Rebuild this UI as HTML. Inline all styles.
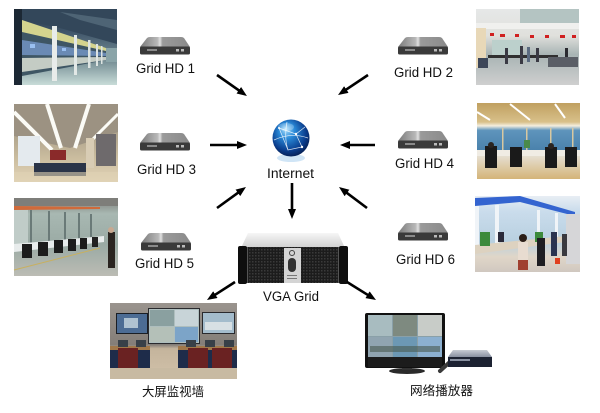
<!DOCTYPE html>
<html><head><meta charset="utf-8"><style>
html,body{margin:0;padding:0;background:#fff;}
svg{display:block;}
text{font-family:"Liberation Sans","Noto Sans CJK SC",sans-serif;fill:#111;}
</style></head><body>
<svg width="600" height="413" viewBox="0 0 600 413" xmlns="http://www.w3.org/2000/svg">
<defs>
<marker id="ah" markerWidth="10" markerHeight="8" viewBox="0 0 10 8" refX="2" refY="4" orient="auto" markerUnits="userSpaceOnUse">
<path d="M0,0 L10,4 L0,8 z" fill="#000"/>
</marker>
<linearGradient id="devtop" x1="0" y1="0" x2="1" y2="0">
<stop offset="0" stop-color="#7a7a7a"/><stop offset="0.35" stop-color="#b8b8b8"/><stop offset="0.4" stop-color="#e0e0e0"/><stop offset="0.45" stop-color="#9a9a9a"/><stop offset="1" stop-color="#8a8a8a"/>
</linearGradient>
<g id="dev">
<path d="M7,1 Q8,0 10,0 L41,0 Q43,0 44,1 L50,10 L0,10 Z" fill="url(#devtop)"/>
<rect x="0" y="9.5" width="50" height="8" rx="1.5" fill="#3a3a3a"/>
<rect x="7" y="12" width="10" height="2" fill="#8a8a8a"/>
<rect x="36" y="12" width="3" height="2.5" fill="#bbb"/>
<rect x="41" y="12" width="3" height="2.5" fill="#bbb"/>
</g>
<radialGradient id="globe" cx="0.45" cy="0.4" r="0.6" fx="0.35" fy="0.25">
<stop offset="0" stop-color="#b0e4ff"/><stop offset="0.35" stop-color="#2a8ad8"/><stop offset="0.8" stop-color="#0a3c8c"/><stop offset="1" stop-color="#06225a"/>
</radialGradient>
<linearGradient id="srvtop" x1="0" y1="0" x2="0" y2="1">
<stop offset="0" stop-color="#f6f6f6"/><stop offset="1" stop-color="#cfcfcf"/>
</linearGradient>
<pattern id="mesh" width="3" height="3" patternUnits="userSpaceOnUse">
<rect width="3" height="3" fill="#1c1c1c"/><rect x="0" y="0" width="1.5" height="1.5" fill="#3a3a3a"/>
</pattern>
<linearGradient id="p1" x1="0" y1="0" x2="0" y2="1">
<stop offset="0" stop-color="#243242"/><stop offset="0.3" stop-color="#40566a"/><stop offset="0.7" stop-color="#7a9298"/><stop offset="1" stop-color="#c8dcd8"/>
</linearGradient>
<linearGradient id="p3" x1="0" y1="0" x2="0" y2="1">
<stop offset="0" stop-color="#a49a8a"/><stop offset="0.45" stop-color="#b4a890"/><stop offset="0.7" stop-color="#cbbd9f"/><stop offset="1" stop-color="#e2d4b8"/>
</linearGradient>
<linearGradient id="p5" x1="0" y1="0" x2="0" y2="1">
<stop offset="0" stop-color="#7c7c78"/><stop offset="0.2" stop-color="#a8b8b2"/><stop offset="0.6" stop-color="#9aaaa4"/><stop offset="1" stop-color="#bcbcb4"/>
</linearGradient>
<linearGradient id="p2" x1="0" y1="0" x2="0" y2="1">
<stop offset="0" stop-color="#e6e8e8"/><stop offset="0.35" stop-color="#e0e0dc"/><stop offset="0.6" stop-color="#a8b4b4"/><stop offset="1" stop-color="#cfcfcf"/>
</linearGradient>
<linearGradient id="p4" x1="0" y1="0" x2="0" y2="1">
<stop offset="0" stop-color="#c0a060"/><stop offset="0.25" stop-color="#d8c08a"/><stop offset="0.3" stop-color="#f4eede"/><stop offset="0.36" stop-color="#5e94bc"/><stop offset="0.62" stop-color="#4a82ac"/><stop offset="0.66" stop-color="#e8e4dc"/><stop offset="1" stop-color="#d4b478"/>
</linearGradient>
<linearGradient id="p6" x1="0" y1="0" x2="0" y2="1">
<stop offset="0" stop-color="#e8eef4"/><stop offset="0.2" stop-color="#cadcec"/><stop offset="0.6" stop-color="#b8d0e0"/><stop offset="0.8" stop-color="#e0d6c8"/><stop offset="1" stop-color="#d0c8c0"/>
</linearGradient>
<linearGradient id="wallg" x1="0" y1="0" x2="0" y2="1">
<stop offset="0" stop-color="#9a948e"/><stop offset="0.55" stop-color="#847e78"/><stop offset="0.6" stop-color="#c4b49c"/><stop offset="1" stop-color="#d2c2aa"/>
</linearGradient>
<linearGradient id="boxtop" x1="0" y1="0" x2="0" y2="1">
<stop offset="0" stop-color="#c8ccd4"/><stop offset="1" stop-color="#8890a0"/>
</linearGradient>
</defs>

<!-- Photo 1 -->
<g>
<rect x="14" y="9" width="103" height="76" fill="url(#p1)"/>
<polygon points="14,9 117,9 117,44 60,28 14,18" fill="#33475a"/>
<polygon points="60,12 117,20 117,30 80,20" fill="#5a7080" opacity="0.7"/>
<rect x="14" y="9" width="8" height="76" fill="#1c2834"/>
<polygon points="22,20 106,48 106,60 22,76" fill="#3e5664"/>
<polygon points="22,20 106,48 106,51 22,32" fill="#d4d48e"/>
<polygon points="22,40 106,53 106,56 22,55" fill="#6a8ab4"/>
<polygon points="22,58 106,57 106,60 22,72" fill="#c4ccc4"/>
<rect x="30" y="44" width="5" height="4" fill="#9ac0f0"/>
<rect x="62" y="48" width="4" height="3" fill="#9ac0f0"/>
<rect x="52" y="26" width="5" height="55" fill="#e8ecea"/>
<rect x="74" y="35" width="3" height="40" fill="#e2e8e6"/>
<rect x="88" y="40" width="2.5" height="28" fill="#dde4e2"/>
<rect x="96" y="44" width="2" height="22" fill="#dde4e2"/>
<rect x="101" y="46" width="1.5" height="18" fill="#dde4e2"/>
<rect x="106" y="48" width="11" height="14" fill="#8aa4a8"/>
</g>

<!-- Photo 3 -->
<g>
<rect x="14" y="104" width="104" height="78" fill="url(#p3)"/>
<polygon points="14,104 118,104 118,132 70,148 14,136" fill="#9c9282"/>
<line x1="14" y1="112" x2="52" y2="150" stroke="#fbfbf6" stroke-width="4"/>
<line x1="47" y1="104" x2="61" y2="148" stroke="#fbfbf6" stroke-width="4"/>
<line x1="89" y1="104" x2="75" y2="148" stroke="#fbfbf6" stroke-width="4"/>
<line x1="118" y1="114" x2="92" y2="140" stroke="#fbfbf6" stroke-width="3"/>
<rect x="18" y="136" width="22" height="30" fill="#e4eaee"/>
<rect x="96" y="134" width="20" height="32" fill="#6e6a6c"/>
<rect x="50" y="150" width="16" height="10" fill="#8a2a2a"/>
<rect x="86" y="138" width="8" height="30" fill="#d8ccb4"/>
<rect x="34" y="163" width="52" height="13" fill="#2a3448"/>
<rect x="14" y="172" width="104" height="10" fill="#e0d2b4" opacity="0.6"/>
</g>

<!-- Photo 5 -->
<g>
<rect x="14" y="198" width="104" height="78" fill="url(#p5)"/>
<rect x="14" y="198" width="104" height="8" fill="#7e7e7a"/>
<polygon points="14,206 100,207 100,209 14,210" fill="#d06a3a"/>
<rect x="14" y="210" width="14" height="36" fill="#c0ccc8"/>
<rect x="30" y="210" width="2" height="36" fill="#6a7a78"/>
<rect x="48" y="211" width="2" height="34" fill="#6a7a78"/>
<rect x="64" y="212" width="2" height="32" fill="#6a7a78"/>
<rect x="78" y="213" width="2" height="30" fill="#6a7a78"/>
<rect x="90" y="214" width="2" height="28" fill="#6a7a78"/>
<polygon points="14,244 104,236 104,242 14,252" fill="#e8ecec"/>
<rect x="22" y="244" width="10" height="14" fill="#1c1c1c"/>
<rect x="38" y="242" width="10" height="14" fill="#1c1c1c"/>
<rect x="54" y="240" width="9" height="13" fill="#1c1c1c"/>
<rect x="68" y="239" width="8" height="12" fill="#1c1c1c"/>
<rect x="80" y="238" width="7" height="11" fill="#1c1c1c"/>
<rect x="92" y="237" width="6" height="10" fill="#222"/>
<rect x="108" y="232" width="7" height="36" fill="#2a2420"/>
<circle cx="111" cy="230" r="3" fill="#c8a890"/>
<line x1="14" y1="270" x2="100" y2="248" stroke="#c8b060" stroke-width="1"/>
</g>

<!-- Photo 2 -->
<g>
<rect x="476" y="9" width="103" height="76" fill="url(#p2)"/>
<rect x="520" y="9" width="59" height="14" fill="#b4c4c2"/>
<rect x="476" y="23" width="103" height="6" fill="#f0f0ee"/>
<rect x="490" y="33" width="4" height="3" fill="#d02020"/>
<rect x="500" y="34" width="5" height="3" fill="#d02020"/>
<rect x="515" y="34" width="4" height="3" fill="#d02020"/>
<rect x="530" y="35" width="4" height="3" fill="#d02020"/>
<rect x="545" y="35" width="4" height="3" fill="#d02020"/>
<rect x="560" y="35" width="5" height="3" fill="#d02020"/>
<rect x="572" y="35" width="4" height="3" fill="#d02020"/>
<rect x="476" y="28" width="10" height="40" fill="#e8d8b8"/>
<rect x="492" y="40" width="30" height="16" fill="#bcd0cc"/>
<rect x="488" y="55" width="70" height="3" fill="#303030"/>
<rect x="505" y="48" width="3" height="16" fill="#3a3a44"/>
<rect x="520" y="46" width="3" height="18" fill="#3a3a44"/>
<rect x="536" y="48" width="3" height="14" fill="#3a3a44"/>
<rect x="527" y="47" width="3" height="15" fill="#5a6a80"/>
<rect x="565" y="48" width="3" height="12" fill="#2a2a30"/>
<rect x="548" y="57" width="30" height="10" fill="#5a5e66"/>
<rect x="478" y="58" width="10" height="10" fill="#3c4658"/>
</g>

<!-- Photo 4 -->
<g>
<rect x="477" y="103" width="103" height="76" fill="url(#p4)"/>
<line x1="510" y1="104" x2="530" y2="120" stroke="#fff" stroke-width="2"/>
<line x1="555" y1="104" x2="565" y2="118" stroke="#fff" stroke-width="2"/>
<line x1="477" y1="112" x2="490" y2="120" stroke="#fff" stroke-width="2"/>
<rect x="502" y="128" width="1.5" height="22" fill="#d8c8a0"/>
<rect x="526" y="128" width="1.5" height="22" fill="#d8c8a0"/>
<rect x="550" y="128" width="1.5" height="22" fill="#d8c8a0"/>
<rect x="572" y="128" width="1.5" height="22" fill="#d8c8a0"/>
<rect x="477" y="150" width="103" height="6" fill="#f0ece4"/>
<rect x="485" y="146" width="12" height="22" fill="#1a1a1a"/>
<circle cx="491" cy="145" r="3" fill="#2a2420"/>
<rect x="510" y="147" width="12" height="20" fill="#1a1a1a"/>
<rect x="545" y="147" width="12" height="21" fill="#1a1a1a"/>
<circle cx="551" cy="146" r="3" fill="#2a2420"/>
<rect x="565" y="147" width="12" height="20" fill="#1a1a1a"/>
<rect x="524" y="140" width="6" height="8" fill="#4a8a4a"/>
</g>

<!-- Photo 6 -->
<g>
<rect x="475" y="196" width="105" height="76" fill="url(#p6)"/>
<polygon points="475,198 520,196 575,212 575,216 520,202 475,206" fill="#3464d0"/>
<rect x="475" y="206" width="4" height="40" fill="#f0f4f8"/>
<rect x="495" y="205" width="4" height="42" fill="#f0f4f8"/>
<rect x="537" y="210" width="3" height="32" fill="#f0f4f8"/>
<rect x="555" y="213" width="3" height="28" fill="#f0f4f8"/>
<rect x="566" y="214" width="14" height="50" fill="#d6d6d8"/>
<polygon points="475,245 566,236 566,242 475,254" fill="#ddd2c0"/>
<rect x="480" y="232" width="10" height="14" fill="#3c8a3c"/>
<rect x="535" y="232" width="8" height="10" fill="#3c8a3c"/>
<rect x="498" y="232" width="6" height="10" fill="#2a2a3a"/>
<rect x="518" y="242" width="10" height="28" fill="#e8dcd0"/>
<rect x="518" y="260" width="10" height="10" fill="#a04030"/>
<circle cx="523" cy="238" r="4" fill="#2a1e18"/>
<rect x="537" y="238" width="8" height="28" fill="#1e1e22"/>
<rect x="551" y="232" width="6" height="24" fill="#2a3450"/>
<rect x="555" y="258" width="5" height="6" fill="#e04020"/>
<rect x="562" y="234" width="5" height="22" fill="#3a3a40"/>
</g>

<!-- Devices -->
<use href="#dev" x="140" y="37"/>
<use href="#dev" x="140" y="133"/>
<use href="#dev" x="141" y="233"/>
<use href="#dev" x="398" y="37"/>
<use href="#dev" x="398" y="131"/>
<use href="#dev" x="398" y="223"/>

<!-- Device labels -->
<text x="136" y="73" font-size="13.5" textLength="59" lengthAdjust="spacingAndGlyphs">Grid HD 1</text>
<text x="137" y="174" font-size="13.5" textLength="59" lengthAdjust="spacingAndGlyphs">Grid HD 3</text>
<text x="135" y="268" font-size="13.5" textLength="59" lengthAdjust="spacingAndGlyphs">Grid HD 5</text>
<text x="394" y="77" font-size="13.5" textLength="59" lengthAdjust="spacingAndGlyphs">Grid HD 2</text>
<text x="395" y="168" font-size="13.5" textLength="59" lengthAdjust="spacingAndGlyphs">Grid HD 4</text>
<text x="396" y="264" font-size="13.5" textLength="59" lengthAdjust="spacingAndGlyphs">Grid HD 6</text>

<!-- Globe -->
<ellipse cx="291" cy="158" rx="14" ry="4" fill="#bcdaf2" opacity="0.7"/>
<circle cx="291" cy="138" r="18.5" fill="url(#globe)"/>
<g stroke="#fff" stroke-width="0.7" fill="none" opacity="0.85">
<path d="M279,128 L296,134 L302,147 L288,150 L279,128"/>
<path d="M296,134 L305,127"/>
<path d="M288,150 Q284,138 287,122"/>
<path d="M274,140 Q291,132 308,138"/>
</g>
<circle cx="296" cy="134" r="1.2" fill="#fff"/>
<circle cx="302" cy="147" r="1.2" fill="#fff"/>
<circle cx="279" cy="128" r="1" fill="#fff"/>
<ellipse cx="286" cy="127" rx="8" ry="4" fill="#fff" opacity="0.25"/>
<text x="267" y="178" font-size="13.5" textLength="47" lengthAdjust="spacingAndGlyphs">Internet</text>

<!-- Server -->
<polygon points="248,233 338,233 345,248 241,248" fill="url(#srvtop)"/>
<rect x="241" y="247" width="104" height="36" fill="url(#mesh)"/>
<rect x="238" y="246" width="9" height="38" rx="2" fill="#0e0e0e"/>
<rect x="339" y="246" width="9" height="38" rx="2" fill="#0e0e0e"/>
<rect x="247" y="247" width="1" height="36" fill="#555"/>
<rect x="338" y="247" width="1" height="36" fill="#555"/>
<rect x="284" y="248" width="17" height="35" fill="#d4d4d4"/>
<circle cx="292" cy="253" r="2.5" fill="none" stroke="#444" stroke-width="1"/>
<rect x="288" y="258" width="8" height="14" rx="4" fill="#333"/>
<rect x="287" y="275" width="10" height="1" fill="#777"/>
<rect x="287" y="278" width="10" height="1" fill="#777"/>
<text x="263" y="301" font-size="13.5" textLength="56" lengthAdjust="spacingAndGlyphs">VGA Grid</text>

<!-- Arrows -->
<g stroke="#000" stroke-width="2.6" marker-end="url(#ah)">
<line x1="217" y1="75" x2="240.4" y2="91.4"/>
<line x1="210" y1="145" x2="239" y2="145"/>
<line x1="217" y1="208" x2="239.5" y2="191.7"/>
<line x1="368" y1="75" x2="344.7" y2="90.6"/>
<line x1="375" y1="145" x2="348" y2="145"/>
<line x1="367" y1="208" x2="345.4" y2="191.8"/>
<line x1="292" y1="183" x2="292" y2="211"/>
<line x1="235" y1="282" x2="213.7" y2="295.7"/>
<line x1="347" y1="282" x2="369.2" y2="295.8"/>
</g>

<!-- Video wall image -->
<g>
<rect x="110" y="303" width="127" height="76" fill="url(#wallg)"/>
<rect x="116" y="313" width="32" height="21" fill="#1a1e24"/>
<rect x="117" y="314" width="30" height="19" fill="#4c6c94"/>
<rect x="124" y="318" width="14" height="10" fill="#c8d8e0" opacity="0.8"/>
<rect x="148" y="308" width="52" height="36" fill="#2a2a2e"/>
<rect x="149" y="309" width="50" height="34" fill="#aebebe"/>
<rect x="150" y="310" width="24" height="16" fill="#8aa0a0"/>
<rect x="175" y="310" width="23" height="16" fill="#c8d4d8"/>
<rect x="175" y="327" width="23" height="15" fill="#7ca4c8"/>
<rect x="150" y="327" width="24" height="15" fill="#b4c0b8"/>
<rect x="202" y="312" width="33" height="22" fill="#2a2a2e"/>
<rect x="203" y="313" width="31" height="20" fill="#a4bccc"/>
<rect x="205" y="322" width="27" height="8" fill="#d8e0e4"/>
<rect x="110" y="346" width="40" height="4" fill="#a0784a"/>
<rect x="110" y="350" width="40" height="18" fill="#1e2c4a"/>
<rect x="178" y="346" width="59" height="4" fill="#a0784a"/>
<rect x="178" y="350" width="59" height="18" fill="#1e2c4a"/>
<rect x="118" y="340" width="10" height="7" fill="#384048"/>
<rect x="136" y="340" width="10" height="7" fill="#384048"/>
<rect x="186" y="340" width="10" height="7" fill="#384048"/>
<rect x="205" y="340" width="10" height="7" fill="#384048"/>
<rect x="224" y="340" width="10" height="7" fill="#384048"/>
<rect x="118" y="348" width="20" height="22" fill="#6a2222"/>
<rect x="188" y="348" width="20" height="22" fill="#6a2222"/>
<rect x="212" y="348" width="20" height="22" fill="#6a2222"/>
<rect x="110" y="368" width="127" height="11" fill="#c8baa2"/>
</g>
<text x="142" y="396" font-size="12.5" textLength="62" lengthAdjust="spacingAndGlyphs">大屏监视墙</text>

<!-- Player image -->
<g>
<ellipse cx="407" cy="371" rx="18" ry="3" fill="#2a2a2a"/>
<rect x="402" y="365" width="10" height="5" fill="#333"/>
<rect x="365" y="313" width="80" height="55" rx="2" fill="#111"/>
<rect x="368" y="315" width="74" height="42" fill="#8aa0a8"/>
<rect x="368" y="315" width="24" height="21" fill="#a8bcc0"/>
<rect x="393" y="315" width="24" height="21" fill="#7e8a80"/>
<rect x="418" y="315" width="24" height="21" fill="#c8ccc8"/>
<rect x="368" y="337" width="24" height="20" fill="#90a4b0"/>
<rect x="393" y="337" width="24" height="20" fill="#6c98b4"/>
<rect x="418" y="337" width="24" height="20" fill="#8cb0d0"/>
<rect x="370" y="346" width="70" height="6" fill="#4a5a50" opacity="0.6"/>
<rect x="368" y="357" width="74" height="10" fill="#1c1c1c"/>
<line x1="440" y1="371" x2="452" y2="360" stroke="#3a3a3a" stroke-width="4" stroke-linecap="round"/>
<polygon points="453,350 487,350 492,357 448,357" fill="url(#boxtop)"/>
<rect x="448" y="357" width="44" height="10" fill="#1c2232"/>
<rect x="450" y="359" width="20" height="2" fill="#8890a0"/>
</g>
<text x="410" y="395" font-size="12.5" textLength="63" lengthAdjust="spacingAndGlyphs">网络播放器</text>
</svg>
</body></html>
